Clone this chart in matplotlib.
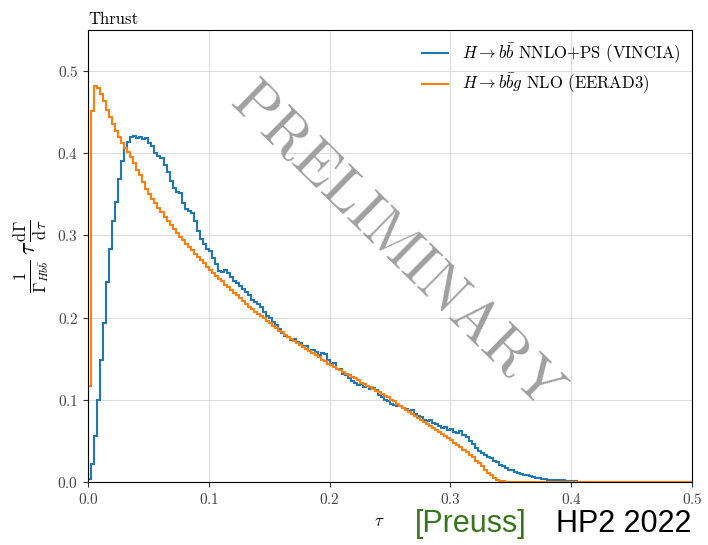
import numpy as np
import matplotlib
matplotlib.use("Agg")
import matplotlib.pyplot as plt

plt.rcParams["font.family"] = "serif"
plt.rcParams["font.serif"] = ["cmr10", "DejaVu Serif"]
plt.rcParams["mathtext.fontset"] = "cm"
plt.rcParams["axes.formatter.use_mathtext"] = True
plt.rcParams["font.size"] = 11

# bin width 0.0025 on tau in [0, 0.5]
bin_w = 0.0025
n_bins = 200

# H -> bbg NLO (EERAD3)
nlo = [0.117, 0.451, 0.482, 0.480, 0.472, 0.463, 0.453, 0.444, 0.435, 0.427,
       0.420, 0.413, 0.407, 0.401, 0.396, 0.388, 0.380, 0.373, 0.365, 0.357,
       0.350, 0.344, 0.339, 0.333, 0.328, 0.323, 0.318, 0.313, 0.308, 0.303,
       0.298, 0.294, 0.290, 0.286, 0.282, 0.278, 0.274, 0.270, 0.266, 0.262,
       0.258, 0.254, 0.251, 0.247, 0.244, 0.240, 0.237, 0.234, 0.230, 0.227,
       0.224, 0.220, 0.217, 0.213, 0.210, 0.207, 0.204, 0.202, 0.199, 0.196,
       0.193, 0.190, 0.187, 0.184, 0.182, 0.179, 0.177, 0.174, 0.172, 0.169,
       0.167, 0.164, 0.162, 0.159, 0.157, 0.154, 0.152, 0.149, 0.147, 0.144,
       0.142, 0.140, 0.138, 0.136, 0.134, 0.132, 0.130, 0.128, 0.126, 0.124,
       0.121, 0.119, 0.117, 0.115, 0.113, 0.111, 0.109, 0.107, 0.105, 0.103,
       0.100, 0.098, 0.095, 0.093, 0.090, 0.088, 0.085, 0.083, 0.080, 0.078,
       0.075, 0.073, 0.071, 0.068, 0.066, 0.063, 0.061, 0.058, 0.056, 0.053,
       0.051, 0.048, 0.045, 0.042, 0.039, 0.036, 0.033, 0.030, 0.026, 0.023,
       0.019, 0.015, 0.011, 0.008, 0.005, 0.003, 0.0015, 0.0008, 0.0003, 0.0001]

# H -> bb NNLO+PS (Vincia)
nnlo_ps = [0.004, 0.022, 0.056, 0.100, 0.149, 0.194, 0.243, 0.284, 0.317, 0.341,
           0.369, 0.390, 0.406, 0.414, 0.420, 0.421, 0.419, 0.420, 0.417, 0.418,
           0.413, 0.409, 0.400, 0.397, 0.394, 0.386, 0.377, 0.366, 0.358, 0.353,
           0.352, 0.340, 0.332, 0.330, 0.327, 0.317, 0.305, 0.296, 0.289, 0.284,
           0.281, 0.272, 0.265, 0.257, 0.256, 0.258, 0.254, 0.249, 0.245, 0.242,
           0.238, 0.235, 0.231, 0.228, 0.222, 0.219, 0.216, 0.213, 0.207, 0.202,
           0.199, 0.195, 0.191, 0.186, 0.181, 0.178, 0.177, 0.173, 0.174, 0.170,
           0.169, 0.166, 0.165, 0.160, 0.161, 0.158, 0.155, 0.157, 0.156, 0.149,
           0.144, 0.145, 0.138, 0.137, 0.132, 0.130, 0.127, 0.123, 0.120, 0.118,
           0.119, 0.115, 0.117, 0.113, 0.114, 0.112, 0.106, 0.104, 0.100, 0.098,
           0.095, 0.094, 0.092, 0.093, 0.090, 0.089, 0.086, 0.088, 0.083, 0.080,
           0.079, 0.076, 0.074, 0.075, 0.072, 0.070, 0.068, 0.066, 0.067, 0.063,
           0.064, 0.061, 0.060, 0.062, 0.057, 0.055, 0.050, 0.046, 0.041, 0.038,
           0.035, 0.033, 0.030, 0.029, 0.026, 0.024, 0.021, 0.019, 0.017, 0.015,
           0.014, 0.012, 0.011, 0.010, 0.009, 0.008, 0.007, 0.006, 0.005, 0.005,
           0.004, 0.004, 0.003, 0.003, 0.003, 0.002, 0.002, 0.002, 0.001, 0.001,
           0.001, 0.001, 0.0005, 0.0005, 0.0005, 0.0003, 0.0002, 0.0002, 0.0001]

edges = np.linspace(0, bin_w * n_bins, n_bins + 1)
nlo_full = np.zeros(n_bins)
nlo_full[:len(nlo)] = nlo
ps_full = np.zeros(n_bins)
ps_full[:len(nnlo_ps)] = nnlo_ps

fig = plt.figure(figsize=(7.08, 5.45), dpi=100)
ax = fig.add_axes([0.1243, 0.1156, 0.8531, 0.8294])

ax.stairs(ps_full, edges, color="#1f77b4", lw=1.5,
          label=r"$H \to b\bar{b}$ NNLO+PS (VINCIA)")
ax.stairs(nlo_full, edges, color="#ff7f0e", lw=1.5,
          label=r"$H \to b\bar{b}g$ NLO (EERAD3)")

ax.set_xlim(0, 0.5)
ax.set_ylim(0, 0.55)
ax.set_xticks([0, 0.1, 0.2, 0.3, 0.4, 0.5])
ax.set_yticks([0, 0.1, 0.2, 0.3, 0.4, 0.5])
ax.grid(True, color="#dddddd", lw=0.8)
ax.set_axisbelow(True)
ax.tick_params(labelsize=11, colors="#333333", labelcolor="#444444")

ax.set_title("Thrust", loc="left", fontsize=12, pad=4)
ax.set_xlabel(r"$\tau$", fontsize=12)
ax.xaxis.set_label_coords(0.483, -0.07)
ax.set_ylabel(r"$\frac{1}{\Gamma_{Hb\bar{b}}}\,\tau\,\frac{\mathrm{d}\Gamma}{\mathrm{d}\tau}$",
              fontsize=17)

ax.legend(loc="upper right", frameon=False, fontsize=12, handlelength=1.6,
          labelspacing=0.35, borderaxespad=0.3)

ax.text(0.51, 0.52, "PRELIMINARY", transform=ax.transAxes, rotation=-44.5,
        ha="center", va="center", fontsize=43, color="#a0a0a0")

fig.text(0.586, 0.024, "[Preuss]", color="#38761d", fontsize=22,
         family="Liberation Sans", ha="left", va="baseline")
fig.text(0.977, 0.024, "HP2 2022", color="black", fontsize=22,
         family="Liberation Sans", ha="right", va="baseline")

fig.savefig("out.png", dpi=100)
